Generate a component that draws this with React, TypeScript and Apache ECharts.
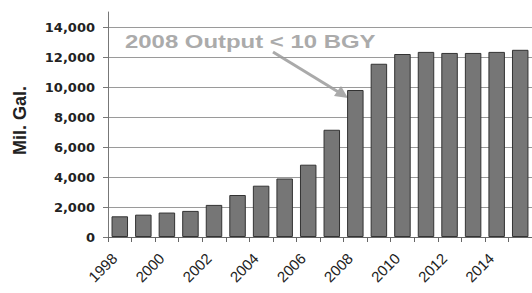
import React, { useEffect, useRef } from "react";
import * as echarts from "echarts";

const years = ["1998","1999","2000","2001","2002","2003","2004","2005","2006","2007","2008","2009","2010","2011","2012","2013","2014","2015"];
const output = [1380, 1490, 1630, 1740, 2140, 2800, 3420, 3900, 4820, 7150, 9800, 11550, 12200, 12340, 12270, 12270, 12340, 12480];
const yTicks = [0, 2000, 4000, 6000, 8000, 10000, 12000, 14000];
const annotation = "2008 Output < 10 BGY";
const yName = "Mil. Gal.";

export default function App() {
  const ref = useRef<HTMLDivElement>(null);
  useEffect(() => {
    if (!ref.current) return;
    const chart = echarts.init(ref.current, null, { renderer: "svg" });
    chart.setOption({
      animation: false,
      grid: { left: 108, top: 12, bottom: 56, width: 432, containLabel: false },
      xAxis: {
        type: "category",
        data: years,
        axisLine: { show: true, lineStyle: { color: "#666", width: 1 } },
        axisTick: { show: true, interval: 0, length: 5, lineStyle: { color: "#666" } },
        axisLabel: {
          interval: 1,
          rotate: 45,
          margin: 24,
          verticalAlign: "bottom",
          fontFamily: "Liberation Sans",
          fontSize: 15,
          color: "#222",
        },
      },
      yAxis: {
        type: "value",
        min: 0,
        max: 15000,
        interval: 2000,
        name: yName,
        nameLocation: "middle",
        nameGap: 79,
        nameTextStyle: { fontFamily: "Liberation Sans", fontWeight: "bold", fontSize: 18, color: "#222", padding: [0, 0, 0, 8] },
        axisLine: { show: true, lineStyle: { color: "#777", width: 1 } },
        axisTick: { show: true, length: 5, customValues: yTicks, lineStyle: { color: "#777" } },
        axisLabel: {
          customValues: yTicks,
          margin: 13,
          fontFamily: "DejaVu Sans",
          fontWeight: "bold",
          fontSize: 13,
          color: "#222",
          formatter: (v: number) => v.toLocaleString("en-US"),
        },
        splitLine: { show: true, lineStyle: { color: "#9a9a9a", width: 1 } },
      },
      series: [
        {
          type: "bar",
          data: output,
          barCategoryGap: "30%",
          itemStyle: { color: "#767676", borderColor: "#333", borderWidth: 1 },
        },
      ],
      graphic: [
        {
          type: "text",
          x: 125,
          y: 42,
          scaleX: 1.33,
          style: {
            text: annotation,
            fontFamily: "Liberation Sans",
            fontWeight: "bold",
            fontSize: 18,
            fill: "#ababab",
            verticalAlign: "middle",
            align: "left",
          },
        },
        {
          type: "line",
          shape: { x1: 273, y1: 52, x2: 340, y2: 93 },
          style: { stroke: "#aaa", lineWidth: 3 },
        },
        {
          type: "polygon",
          shape: { points: [[348, 98], [334, 96], [341, 86]] },
          style: { fill: "#aaa" },
        },
      ],
    });
    return () => chart.dispose();
  }, []);
  return <div ref={ref} style={{ width: 532, height: 293, position: "absolute", left: 0, top: 0 }} />;
}
